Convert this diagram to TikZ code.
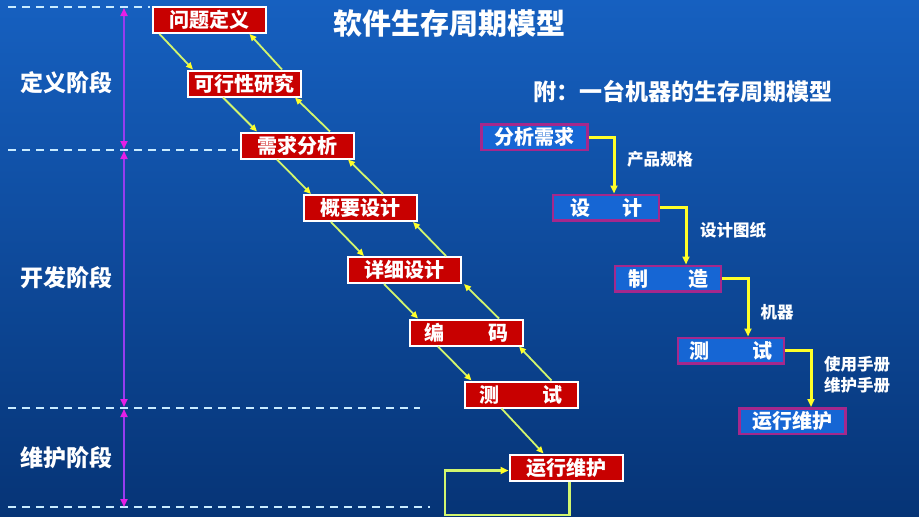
\documentclass[tikz,border=0pt]{standalone}
\usepackage{fontspec}
\newfontfamily\cjk{Noto Sans CJK SC}
\usetikzlibrary{arrows.meta}
\definecolor{bgtop}{RGB}{22,96,192}
\definecolor{bgbot}{RGB}{6,52,118}
\definecolor{boxred}{RGB}{200,0,0}
\definecolor{boxblue}{RGB}{22,102,212}
\definecolor{boxmag}{RGB}{165,40,140}
\definecolor{lgreen}{RGB}{210,245,110}
\definecolor{ylw}{RGB}{255,255,40}
\definecolor{violetline}{RGB}{150,60,240}
\definecolor{magtip}{RGB}{230,30,230}
\definecolor{dashc}{RGB}{200,235,255}
\begin{document}
\begin{tikzpicture}[x=1pt,y=-1pt,
  redbox/.style={draw=white, line width=2pt, fill=boxred, minimum width=113pt, minimum height=26pt, inner sep=0pt, text=white, font=\cjk\bfseries\fontsize{20}{20}\selectfont},
  bluebox/.style={draw=boxmag, line width=2.5pt, fill=boxblue, minimum width=106pt, minimum height=25.5pt, inner sep=0pt, text=white, font=\cjk\bfseries\fontsize{20}{20}\selectfont},
  phase/.style={text=white, font=\cjk\bfseries\fontsize{23}{23}\selectfont, inner sep=0pt},
  lbl/.style={text=white, font=\cjk\bfseries\fontsize{16.5}{20}\selectfont, inner sep=0pt, align=left},
  flow/.style={draw=lgreen, line width=1.8pt, -{Triangle[length=7pt,width=6pt,fill=ylw,color=ylw]}},
  loopline/.style={draw=lgreen, line width=2.5pt, -{Triangle[length=8pt,width=7pt,fill=ylw,color=ylw]}},
  yflow/.style={draw=ylw, line width=3pt, -{Triangle[length=8pt,width=7pt,fill=ylw,color=ylw]}},
  phasearrow/.style={draw=violetline, line width=1.8pt, {Triangle[length=8pt,width=7pt,fill=magtip,color=magtip]}-{Triangle[length=8pt,width=7pt,fill=magtip,color=magtip]}},
  sep/.style={draw=dashc, line width=1.5pt, dash pattern=on 8pt off 6pt}
]
\shade[top color=bgtop, bottom color=bgbot] (0,0) rectangle (919,517);
\path[use as bounding box] (0,0) rectangle (919,517);

% dashed separators
\coordinate (d1a) at (8,7);   \coordinate (d1b) at (150,7);
\coordinate (d2a) at (8,150); \coordinate (d2b) at (238,150);
\coordinate (d3a) at (8,408); \coordinate (d3b) at (420,408);
\coordinate (d4a) at (8,507); \coordinate (d4b) at (430,507);
\draw[sep] (d1a) -- (d1b);
\draw[sep] (d2a) -- (d2b);
\draw[sep] (d3a) -- (d3b);
\draw[sep] (d4a) -- (d4b);

% phase arrows
\coordinate (p1) at (124,8);
\coordinate (p2a) at (124,149);
\coordinate (p2b) at (124,151);
\coordinate (p3a) at (124,407);
\coordinate (p3b) at (124,409);
\coordinate (p4) at (124,507);
\draw[phasearrow] (p1) -- (p2a);
\draw[phasearrow] (p2b) -- (p3a);
\draw[phasearrow] (p3b) -- (p4);

\node[phase] (ph1) at (66,83) {定义阶段};
\node[phase] (ph2) at (66,278) {开发阶段};
\node[phase] (ph3) at (66,458) {维护阶段};

% titles
\node[text=white, font=\cjk\bfseries\fontsize{29}{29}\selectfont, inner sep=0pt] (title) at (449,24) {软件生存周期模型};
\node[text=white, font=\cjk\bfseries\fontsize{23}{23}\selectfont, inner sep=0pt] (sub) at (683,92) {附：一台机器的生存周期模型};

% waterfall boxes
\node[redbox] (r1) at (209,20) {问题定义};
\node[redbox] (r2) at (244.5,83.5) {可行性研究};
\node[redbox] (r3) at (297.5,145.5) {需求分析};
\node[redbox] (r4) at (360.5,208) {概要设计};
\node[redbox] (r5) at (404.5,270) {详细设计};
\node[redbox] (r6) at (466.5,332.5) {编\hspace{2.2em}码};
\node[redbox] (r7) at (521,394.5) {测\hspace{2.2em}试};
\node[redbox] (r8) at (566,467.5) {运行维护};

% down arrows
\draw[flow] ([xshift=8pt]r1.south west) -- ([xshift=6pt]r2.north west);
\draw[flow] ([xshift=36pt]r2.south west) -- ([xshift=17pt]r3.north west);
\draw[flow] ([xshift=37pt]r3.south west) -- ([xshift=8pt]r4.north west);
\draw[flow] ([xshift=28pt]r4.south west) -- ([xshift=17pt]r5.north west);
\draw[flow] ([xshift=37pt]r5.south west) -- ([xshift=9pt]r6.north west);
\draw[flow] ([xshift=29pt]r6.south west) -- ([xshift=8pt]r7.north west);
\draw[flow] ([xshift=38pt]r7.south west) -- ([xshift=35pt]r8.north west);
% up arrows
\draw[flow] ([xshift=95pt]r2.north west) -- ([xshift=98pt]r1.south west);
\draw[flow] ([xshift=90pt]r3.north west) -- ([xshift=108pt]r2.south west);
\draw[flow] ([xshift=80pt]r4.north west) -- ([xshift=108pt]r3.south west);
\draw[flow] ([xshift=99pt]r5.north west) -- ([xshift=110pt]r4.south west);
\draw[flow] ([xshift=90pt]r6.north west) -- ([xshift=2pt]r5.south east);
\draw[flow] ([xshift=88pt]r7.north west) -- ([xshift=110pt]r6.south west);
% maintenance loop
\coordinate (lp) at (445,515);
\draw[loopline] ([xshift=-54pt]r8.south east) |- (lp) |- ([yshift=-3pt]r8.west);

% machine life cycle
\node[bluebox] (b1) at (534.5,137) {分析需求};
\node[bluebox] (b2) at (606,207.5) {设\hspace{1.6em}计};
\node[bluebox] (b3) at (668,278.5) {制\hspace{2em}造};
\node[bluebox] (b4) at (731,350.5) {测\hspace{2.2em}试};
\node[bluebox] (b5) at (792.5,421) {运行维护};

\draw[yflow] (b1.east) -| ([xshift=8pt]b2.north);
\draw[yflow] (b2.east) -| ([xshift=18pt]b3.north);
\draw[yflow] (b3.east) -| ([xshift=17pt]b4.north);
\draw[yflow] (b4.east) -| ([xshift=18.5pt]b5.north);

\node[lbl] (l1) at (660,159) {产品规格};
\node[lbl] (l2) at (733,230) {设计图纸};
\node[lbl] (l3) at (777,312) {机器};
\node[lbl] (l4) at (857,375) {使用手册\\[1pt]维护手册};
\end{tikzpicture}
\end{document}
